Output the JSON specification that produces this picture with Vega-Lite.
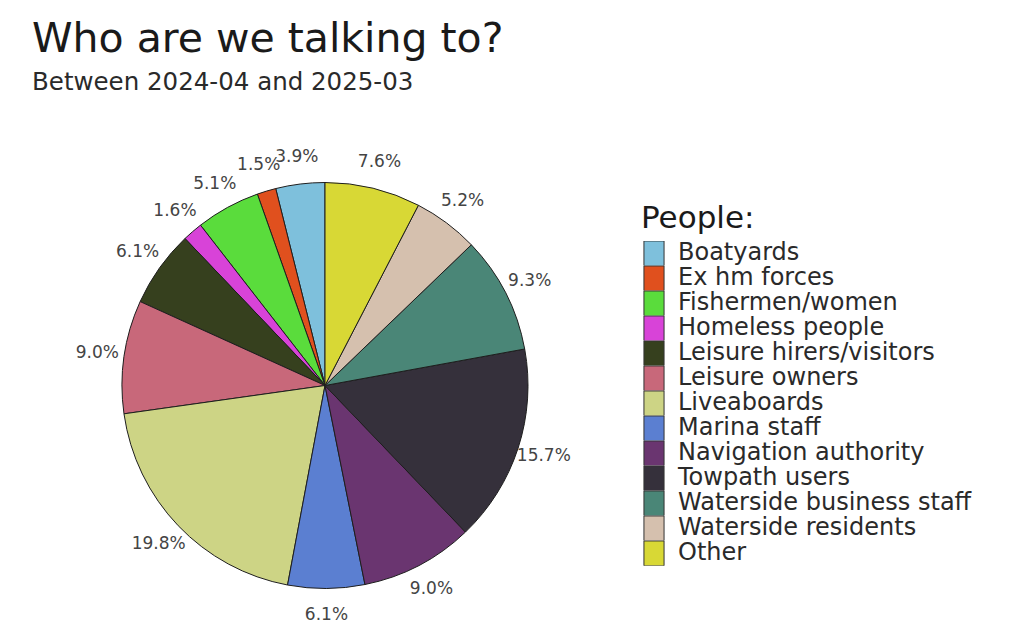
{
  "$schema": "https://vega.github.io/schema/vega-lite/v6.json",
  "autosize": {"type": "none"},
  "width": 500,
  "height": 479,
  "padding": {"left": 75, "top": 146, "right": 456, "bottom": 0},
  "background": "white",
  "config": {"view": {"stroke": null}, "font": "DejaVu Sans"},
  "title": {
    "text": "Who are we talking to?",
    "subtitle": "Between 2024-04 and 2025-03",
    "anchor": "start",
    "frame": "group",
    "dx": -43,
    "offset": 51,
    "font": "DejaVu Sans",
    "fontSize": 41,
    "fontWeight": "normal",
    "color": "#1a1a1a",
    "subtitleFont": "DejaVu Sans",
    "subtitleFontSize": 24.5,
    "subtitleColor": "#2a2a2a",
    "subtitlePadding": 10
  },
  "data": {
    "values": [
      {"group": "Boatyards", "idx": 1, "share": 0.039},
      {"group": "Ex hm forces", "idx": 2, "share": 0.015},
      {"group": "Fishermen/women", "idx": 3, "share": 0.051},
      {"group": "Homeless people", "idx": 4, "share": 0.016},
      {"group": "Leisure hirers/visitors", "idx": 5, "share": 0.061},
      {"group": "Leisure owners", "idx": 6, "share": 0.090},
      {"group": "Liveaboards", "idx": 7, "share": 0.198},
      {"group": "Marina staff", "idx": 8, "share": 0.061},
      {"group": "Navigation authority", "idx": 9, "share": 0.090},
      {"group": "Towpath users", "idx": 10, "share": 0.157},
      {"group": "Waterside business staff", "idx": 11, "share": 0.093},
      {"group": "Waterside residents", "idx": 12, "share": 0.052},
      {"group": "Other", "idx": 13, "share": 0.076}
    ]
  },
  "encoding": {
    "theta": {"field": "share", "type": "quantitative", "stack": true},
    "order": {"field": "idx", "type": "quantitative", "sort": "descending"}
  },
  "layer": [
    {
      "mark": {"type": "arc", "outerRadius": 203, "stroke": "#1e1e1e", "strokeWidth": 1},
      "encoding": {
        "color": {
          "field": "group",
          "type": "nominal",
          "scale": {
            "domain": ["Boatyards", "Ex hm forces", "Fishermen/women", "Homeless people", "Leisure hirers/visitors", "Leisure owners", "Liveaboards", "Marina staff", "Navigation authority", "Towpath users", "Waterside business staff", "Waterside residents", "Other"],
            "range": ["#7ec0dc", "#e0501e", "#5adc3c", "#d843d8", "#36401e", "#c8687a", "#cdd485", "#5b7fd1", "#6a3570", "#35303b", "#4a8677", "#d5c0ae", "#d8d835"]
          },
          "legend": {
            "title": "People:",
            "orient": "none",
            "legendX": 566,
            "legendY": 58,
            "titleFont": "DejaVu Sans",
            "titleFontSize": 31,
            "titleFontWeight": "normal",
            "titleColor": "#1a1a1a",
            "titlePadding": 6,
            "labelFont": "DejaVu Sans",
            "labelFontSize": 24,
            "labelColor": "#2a2a2a",
            "labelOffset": 11,
            "labelLimit": 400,
            "symbolType": "M-0.808,-1H0.808V1H-0.808Z",
            "symbolSize": 620,
            "symbolStrokeColor": "#333333",
            "symbolStrokeWidth": 1,
            "symbolOpacity": 1,
            "clipHeight": 24.8,
            "rowPadding": 0
          }
        }
      }
    },
    {
      "mark": {"type": "text", "radius": 230, "fontSize": 17, "font": "DejaVu Sans", "color": "#444444"},
      "encoding": {
        "text": {"field": "share", "type": "quantitative", "format": ".1%"}
      }
    }
  ]
}
